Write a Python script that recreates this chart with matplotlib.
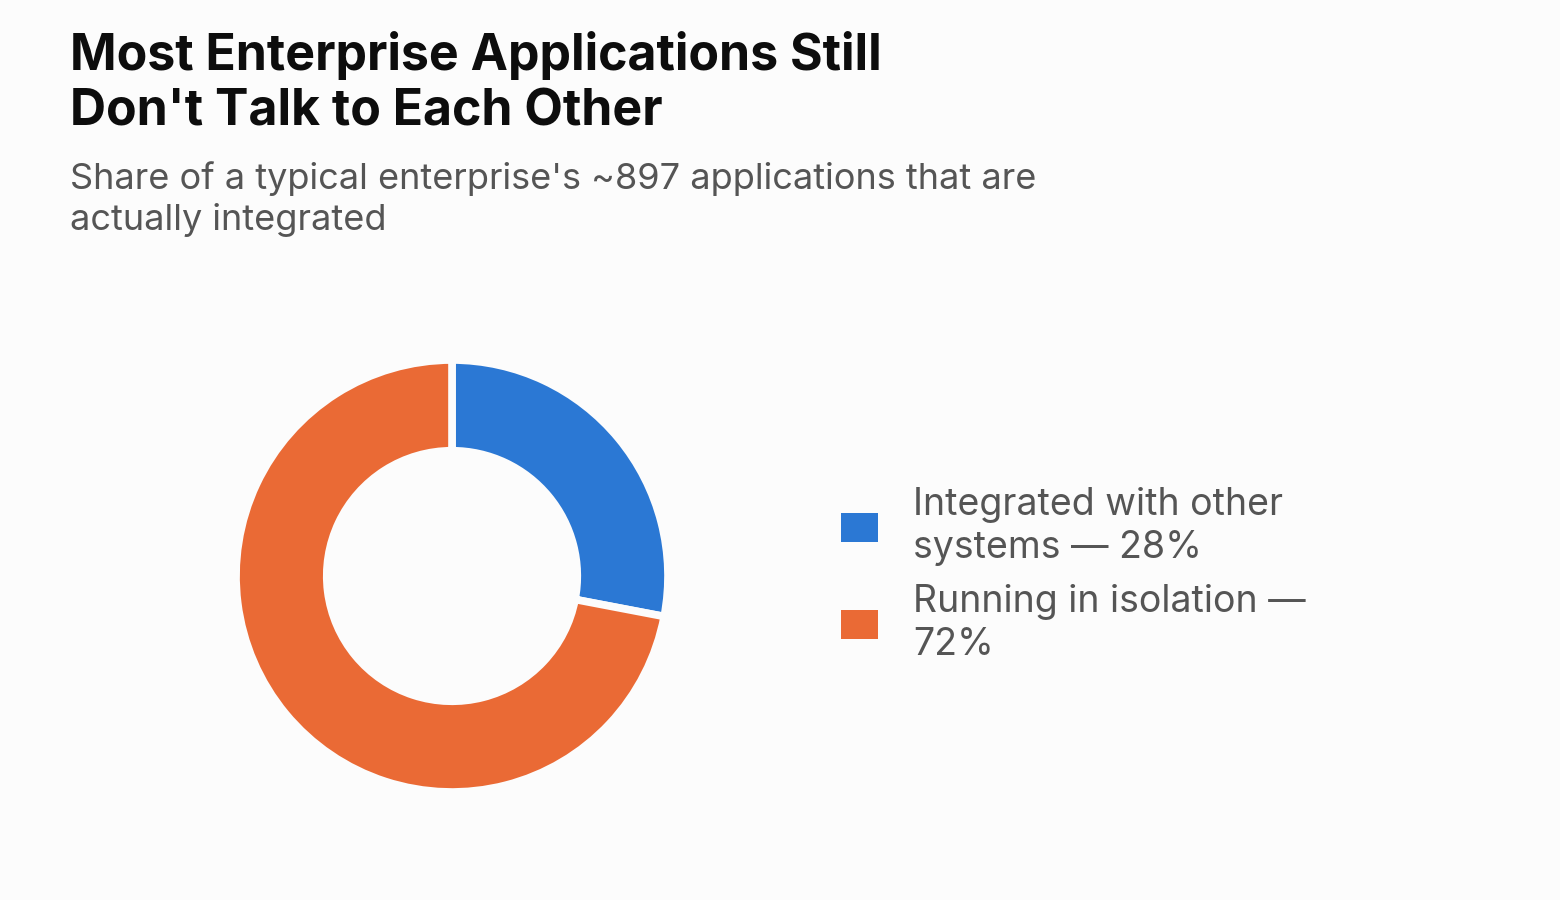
import matplotlib
matplotlib.use("Agg")
import matplotlib.pyplot as plt

# data
labels = ["Integrated with other\nsystems \u2014 28%", "Running in isolation \u2014\n72%"]
shares = [28, 72]
colors = ["#2B78D4", "#EA6A35"]

bg = "#FCFCFC"
plt.rcParams["font.family"] = ["Inter", "DejaVu Sans"]

fig = plt.figure(figsize=(15.6, 9), dpi=100, facecolor=bg)

# donut axes, centred around (452, 576) px
ax = fig.add_axes([0.1513, 1 - 576 / 900 - 0.24, 0.2769, 0.48])
ax.set_facecolor(bg)
wedges, _ = ax.pie(shares, colors=colors, startangle=90, counterclock=False,
                   radius=1.0, wedgeprops=dict(width=0.42, edgecolor=bg, linewidth=5.5))
ax.set_xlim(-1, 1)
ax.set_ylim(-1, 1)
ax.set_aspect("equal")
ax.axis("off")

# title and subtitle
fig.text(0.045, 1 - 31 / 900, "Most Enterprise Applications Still\nDon't Talk to Each Other",
         fontsize=36, fontweight="bold", color="#0D0D0D", va="top", ha="left", linespacing=1.22)
fig.text(0.045, 1 - 161 / 900, "Share of a typical enterprise's ~897 applications that are\nactually integrated",
         fontsize=26, color="#555555", va="top", ha="left", linespacing=1.27)

# legend
leg = fig.legend(wedges, labels, loc="center left", bbox_to_anchor=(0.539, 1 - 575 / 900),
                 frameon=False, fontsize=27, labelcolor="#555555",
                 handlelength=1.0, handleheight=0.8, handletextpad=0.93,
                 labelspacing=0.5, borderpad=0, borderaxespad=0)
for h in leg.legend_handles:
    h.set_linewidth(0)
for t in leg.get_texts():
    t.set_linespacing(1.22)

fig.savefig("out.png", dpi=100, facecolor=bg)
